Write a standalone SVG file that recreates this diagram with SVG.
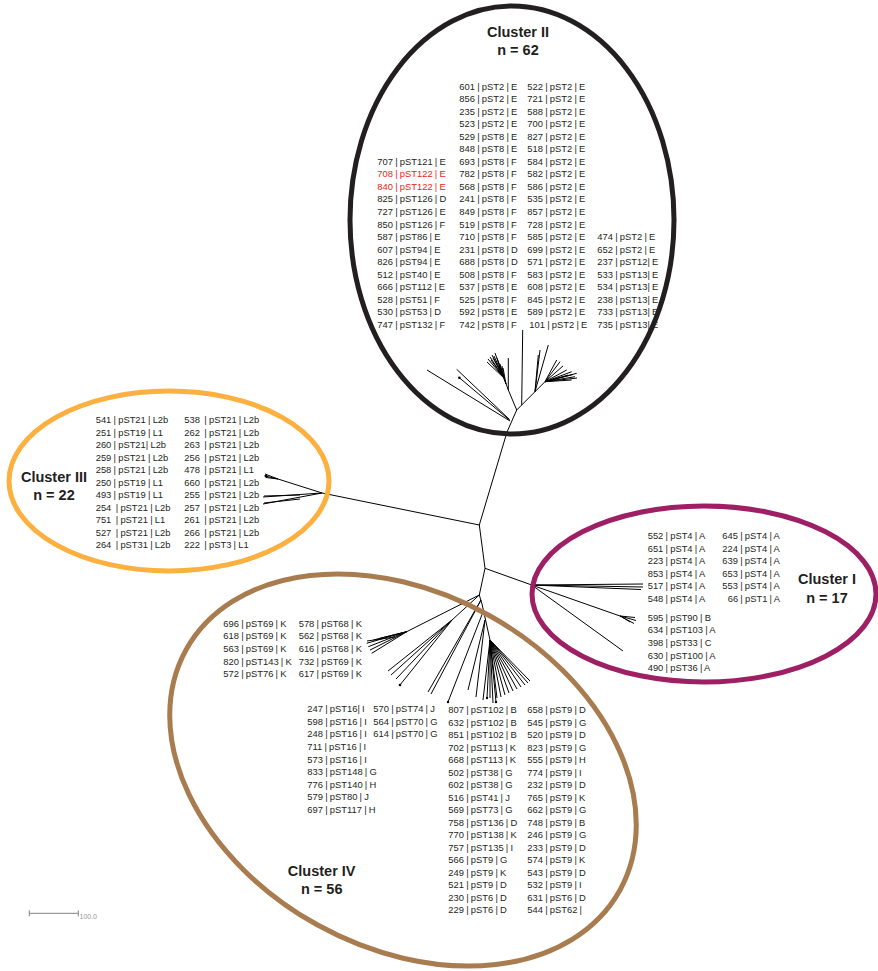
<svg xmlns="http://www.w3.org/2000/svg" width="878" height="971" viewBox="0 0 878 971">
<style>
.lbl{font-family:"Liberation Sans",Arial,sans-serif;font-size:9.4px;fill:#231f20;word-spacing:-0.4px}
.red{fill:#ed1c24}
.ttl{font-family:"Liberation Sans",Arial,sans-serif;font-size:14.5px;font-weight:bold;fill:#231f20;text-anchor:middle}
.ring{fill:none;stroke-width:5}
.tree path{fill:none;stroke:#000;stroke-width:1}
.tree circle{fill:#000}
.scale{stroke:#808285;stroke-width:1;fill:none}
.sc{font-family:"Liberation Sans",Arial,sans-serif;font-size:7px;fill:#939598}
</style>
<rect width="878" height="971" fill="#fff"/>

<g id="connectors" class="tree">
  <path d="M516.7,410 L507,432 L479.3,525 L485,568.3 L479.3,595 L482,604 L490,640"/>
  <path d="M479.3,525 L322,493"/>
  <path d="M322,493 L278,479 M278,479 L265,474 M278,479 L265,476 M278,479 L266,477.5"/>
  <path d="M322,493 L263,497 M300,495 L264,496 M322,493 L263,504 M300,499 L264,503"/>
  <path d="M485,568.3 L531.7,585"/>
  <path d="M531.7,585 L643,584 M531.7,585 L643,587 M531.7,585 L641,589.5"/>
  <path d="M531.7,585 L620,616 M620,616 L635,617.5 M620,616 L636,620.5 M620,616 L634,623.5 M622,617 L630,622"/>
  <path d="M531.7,585 L623,651"/>
  <path d="M510,421 L427,370 M509.5,419.5 L456.7,369.3 M509.5,420 L459.3,377.7"/>
  <path d="M516.7,410 L508.3,390 L508.3,358 M508.3,390 L504,378"/>
  <path d="M504,378 L487,362 M504,378 L488,359 M504,378 L490,357 M504,378 L492,355 M504,378 L494,356 M504,378 L495,353 M504,378 L497,358 M504,378 L498,361 M504,378 L500,364 M504,378 L502,366 M504,378 L491,360 M504,378 L493,358 M506,384 L499,366 M506,384 L503,368"/>
  <path d="M516.7,410 L535,391.7 M521.7,405 L522.7,330"/>
  <path d="M535,391.7 L538.3,355 M535,391.7 L540,350 M535,391.7 L548.3,345 M535,391.7 L545,381.7"/>
  <path d="M545,381.7 L560,361.7 M545,381.7 L556.7,360 M545,381.7 L566.7,370 M545,381.7 L571.7,371.7 M545,381.7 L576.7,373.3 M545,381.7 L575,376.7 M545,381.7 L571.7,380 M545,381.7 L568.3,375 M545,381.7 L563,366 M545,381.7 L573,374.5 M545,381.7 L577,378"/>
  <path d="M479.3,595 L406.7,631.7"/>
  <path d="M406.7,631.7 L366.7,643.3 M406.7,631.7 L368.3,646.7 M406.7,631.7 L370,650 M406.7,631.7 L371.7,653.3 M406.7,631.7 L373.3,640 M406.7,631.7 L380,638.3 M395,637 L367,641"/>
  <path d="M479.3,595 L452,620 M452,620 L388,671 M452,620 L391,675 M452,620 L396,679 M452,620 L400,685"/>
  <path d="M481,600 L428,692 M481,600 L431,694 M483,612 L448,702"/>
  <path d="M485,620 L468,690 M485,620 L476,697"/>
  <path d="M490,640 L483,700 M490,640 L487,698 M490,640 L490,698 M490,640 L493,703 M490,640 L497,698 M490,640 L501,697 M490,640 L505,695 M490,640 L509,693 M490,640 L513,691 M490,640 L517,689 M490,640 L521,687 M490,640 L525,685 M490,640 L528,683 M490,640 L530,681 M490,640 L496,702"/>
  <circle cx="459.3" cy="377.7" r="1.3"/>
  <circle cx="400" cy="685" r="1.3"/>
  <circle cx="448" cy="702" r="1.2"/>
  <circle cx="487" cy="698" r="1.2"/>
  <circle cx="496" cy="702" r="1.2"/>
  <circle cx="266" cy="476" r="1.5"/>
</g>

<g id="cluster-II">
  <ellipse class="ring" cx="512" cy="220" rx="162" ry="214" stroke="#231f20"/>
  <text class="ttl" x="518" y="36.7">Cluster II</text>
  <text class="ttl" x="518" y="55">n = 62</text>
  <text class="lbl">
    <tspan x="377.3" y="164.8">707 | pST121 | E</tspan>
    <tspan x="377.3" dy="12.55" class="red">708 | pST122 | E</tspan>
    <tspan x="377.3" dy="12.55" class="red">840 | pST122 | E</tspan>
    <tspan x="377.3" dy="12.55">825 | pST126 | D</tspan>
    <tspan x="377.3" dy="12.55">727 | pST126 | E</tspan>
    <tspan x="377.3" dy="12.55">850 | pST126 | F</tspan>
    <tspan x="377.3" dy="12.55">587 | pST86 | E</tspan>
    <tspan x="377.3" dy="12.55">607 | pST94 | E</tspan>
    <tspan x="377.3" dy="12.55">826 | pST94 | E</tspan>
    <tspan x="377.3" dy="12.55">512 | pST40 | E</tspan>
    <tspan x="377.3" dy="12.55">666 | pST112 | E</tspan>
    <tspan x="377.3" dy="12.55">528 | pST51 | F</tspan>
    <tspan x="377.3" dy="12.55">530 | pST53 | D</tspan>
    <tspan x="377.3" dy="12.55">747 | pST132 | F</tspan>
  </text>
  <text class="lbl">
    <tspan x="459.3" y="89.5">601 | pST2 | E</tspan>
    <tspan x="459.3" dy="12.55">856 | pST2 | E</tspan>
    <tspan x="459.3" dy="12.55">235 | pST2 | E</tspan>
    <tspan x="459.3" dy="12.55">523 | pST2 | E</tspan>
    <tspan x="459.3" dy="12.55">529 | pST8 | E</tspan>
    <tspan x="459.3" dy="12.55">848 | pST8 | E</tspan>
    <tspan x="459.3" dy="12.55">693 | pST8 | F</tspan>
    <tspan x="459.3" dy="12.55">782 | pST8 | F</tspan>
    <tspan x="459.3" dy="12.55">568 | pST8 | F</tspan>
    <tspan x="459.3" dy="12.55">241 | pST8 | F</tspan>
    <tspan x="459.3" dy="12.55">849 | pST8 | F</tspan>
    <tspan x="459.3" dy="12.55">519 | pST8 | F</tspan>
    <tspan x="459.3" dy="12.55">710 | pST8 | F</tspan>
    <tspan x="459.3" dy="12.55">231 | pST8 | D</tspan>
    <tspan x="459.3" dy="12.55">688 | pST8 | D</tspan>
    <tspan x="459.3" dy="12.55">508 | pST8 | F</tspan>
    <tspan x="459.3" dy="12.55">537 | pST8 | E</tspan>
    <tspan x="459.3" dy="12.55">525 | pST8 | F</tspan>
    <tspan x="459.3" dy="12.55">592 | pST8 | E</tspan>
    <tspan x="459.3" dy="12.55">742 | pST8 | F</tspan>
  </text>
  <text class="lbl">
    <tspan x="527.3" y="89.5">522 | pST2 | E</tspan>
    <tspan x="527.3" dy="12.55">721 | pST2 | E</tspan>
    <tspan x="527.3" dy="12.55">588 | pST2 | E</tspan>
    <tspan x="527.3" dy="12.55">700 | pST2 | E</tspan>
    <tspan x="527.3" dy="12.55">827 | pST2 | E</tspan>
    <tspan x="527.3" dy="12.55">518 | pST2 | E</tspan>
    <tspan x="527.3" dy="12.55">584 | pST2 | E</tspan>
    <tspan x="527.3" dy="12.55">582 | pST2 | E</tspan>
    <tspan x="527.3" dy="12.55">586 | pST2 | E</tspan>
    <tspan x="527.3" dy="12.55">535 | pST2 | E</tspan>
    <tspan x="527.3" dy="12.55">857 | pST2 | E</tspan>
    <tspan x="527.3" dy="12.55">728 | pST2 | E</tspan>
    <tspan x="527.3" dy="12.55">585 | pST2 | E</tspan>
    <tspan x="527.3" dy="12.55">699 | pST2 | E</tspan>
    <tspan x="527.3" dy="12.55">571 | pST2 | E</tspan>
    <tspan x="527.3" dy="12.55">583 | pST2 | E</tspan>
    <tspan x="527.3" dy="12.55">608 | pST2 | E</tspan>
    <tspan x="527.3" dy="12.55">845 | pST2 | E</tspan>
    <tspan x="527.3" dy="12.55">589 | pST2 | E</tspan>
    <tspan x="529.3" dy="12.55">101 | pST2 | E</tspan>
  </text>
  <text class="lbl">
    <tspan x="597.3" y="240.1">474 | pST2 | E</tspan>
    <tspan x="597.3" dy="12.55">652 | pST2 | E</tspan>
    <tspan x="597.3" dy="12.55">237 | pST12| E</tspan>
    <tspan x="597.3" dy="12.55">533 | pST13| E</tspan>
    <tspan x="597.3" dy="12.55">534 | pST13| E</tspan>
    <tspan x="597.3" dy="12.55">238 | pST13| E</tspan>
    <tspan x="597.3" dy="12.55">733 | pST13| E</tspan>
    <tspan x="597.3" dy="12.55">735 | pST13| E</tspan>
  </text>
</g>

<g id="cluster-III">
  <ellipse class="ring" cx="169" cy="481" rx="160" ry="90" stroke="#fbb040"/>
  <text class="ttl" x="54" y="481.7">Cluster III</text>
  <text class="ttl" x="54" y="500">n = 22</text>
  <text class="lbl" xml:space="preserve"><tspan x="95.7" y="423.3">541 | pST21 | L2b</tspan><tspan x="95.7" dy="12.5">251 | pST19 | L1</tspan><tspan x="95.7" dy="12.5">260 | pST21| L2b</tspan><tspan x="95.7" dy="12.5">259 | pST21 | L2b</tspan><tspan x="95.7" dy="12.5">258 | pST21 | L2b</tspan><tspan x="95.7" dy="12.5">250 | pST19 | L1</tspan><tspan x="95.7" dy="12.5">493 | pST19 | L1</tspan><tspan x="95.7" dy="12.5">254  | pST21 | L2b</tspan><tspan x="95.7" dy="12.5">751  | pST21 | L1</tspan><tspan x="95.7" dy="12.5">527  | pST21 | L2b</tspan><tspan x="95.7" dy="12.5">264  | pST31 | L2b</tspan></text>
  <text class="lbl" xml:space="preserve"><tspan x="184.3" y="423.3">538  | pST21 | L2b</tspan><tspan x="184.3" dy="12.5">262  | pST21 | L2b</tspan><tspan x="184.3" dy="12.5">263  | pST21 | L2b</tspan><tspan x="184.3" dy="12.5">256  | pST21 | L2b</tspan><tspan x="184.3" dy="12.5">478  | pST21 | L1</tspan><tspan x="184.3" dy="12.5">660  | pST21 | L2b</tspan><tspan x="184.3" dy="12.5">255  | pST21 | L2b</tspan><tspan x="184.3" dy="12.5">257  | pST21 | L2b</tspan><tspan x="184.3" dy="12.5">261  | pST21 | L2b</tspan><tspan x="184.3" dy="12.5">266  | pST21 | L2b</tspan><tspan x="184.3" dy="12.5">222  | pST3 | L1</tspan></text>
</g>

<g id="cluster-I">
  <ellipse class="ring" cx="704" cy="594" rx="172" ry="88" stroke="#9e1f63"/>
  <text class="ttl" x="827" y="584.3">Cluster I</text>
  <text class="ttl" x="827" y="602.7">n = 17</text>
  <text class="lbl">
    <tspan x="647.7" y="539">552 | pST4 | A</tspan>
    <tspan x="647.7" dy="12.5">651 | pST4 | A</tspan>
    <tspan x="647.7" dy="12.5">223 | pST4 | A</tspan>
    <tspan x="647.7" dy="12.5">853 | pST4 | A</tspan>
    <tspan x="647.7" dy="12.5">517 | pST4 | A</tspan>
    <tspan x="647.7" dy="12.5">548 | pST4 | A</tspan>
  </text>
  <text class="lbl">
    <tspan x="722.3" y="539">645 | pST4 | A</tspan>
    <tspan x="722.3" dy="12.5">224 | pST4 | A</tspan>
    <tspan x="722.3" dy="12.5">639 | pST4 | A</tspan>
    <tspan x="722.3" dy="12.5">653 | pST4 | A</tspan>
    <tspan x="722.3" dy="12.5">553 | pST4 | A</tspan>
    <tspan x="727.7" dy="12.5">66 | pST1 | A</tspan>
  </text>
  <text class="lbl">
    <tspan x="647.7" y="620.7">595 | pST90 | B</tspan>
    <tspan x="647.7" dy="12.6">634 | pST103 | A</tspan>
    <tspan x="647.7" dy="12.6">398 | pST33 | C</tspan>
    <tspan x="647.7" dy="12.6">630 | pST100 | A</tspan>
    <tspan x="647.7" dy="12.6">490 | pST36 | A</tspan>
  </text>
</g>

<g id="cluster-IV">
  <ellipse class="ring" cx="403" cy="770" rx="248" ry="177" transform="rotate(29 403 770)" stroke="#a97c50"/>
  <text class="ttl" x="321.7" y="876">Cluster IV</text>
  <text class="ttl" x="321.7" y="894">n = 56</text>
  <text class="lbl">
    <tspan x="223.3" y="626.7">696 | pST69 | K</tspan>
    <tspan x="223.3" dy="12.65">618 | pST69 | K</tspan>
    <tspan x="223.3" dy="12.65">563 | pST69 | K</tspan>
    <tspan x="223.3" dy="12.65">820 | pST143 | K</tspan>
    <tspan x="223.3" dy="12.65">572 | pST76 | K</tspan>
  </text>
  <text class="lbl">
    <tspan x="298.7" y="626.7">578 | pST68 | K</tspan>
    <tspan x="298.7" dy="12.65">562 | pST68 | K</tspan>
    <tspan x="298.7" dy="12.65">616 | pST68 | K</tspan>
    <tspan x="298.7" dy="12.65">732 | pST69 | K</tspan>
    <tspan x="298.7" dy="12.65">617 | pST69 | K</tspan>
  </text>
  <text class="lbl">
    <tspan x="307.3" y="712.3">247 | pST16| I</tspan>
    <tspan x="307.3" dy="12.55">598 | pST16 | I</tspan>
    <tspan x="307.3" dy="12.55">248 | pST16 | I</tspan>
    <tspan x="307.3" dy="12.55">711 | pST16 | I</tspan>
    <tspan x="307.3" dy="12.55">573 | pST16 | I</tspan>
    <tspan x="307.3" dy="12.55">833 | pST148 | G</tspan>
    <tspan x="307.3" dy="12.55">776 | pST140 | H</tspan>
    <tspan x="307.3" dy="12.55">579 | pST80 | J</tspan>
    <tspan x="307.3" dy="12.55">697 | pST117 | H</tspan>
  </text>
  <text class="lbl">
    <tspan x="373.3" y="712.3">570 | pST74 | J</tspan>
    <tspan x="373.3" dy="12.55">564 | pST70 | G</tspan>
    <tspan x="373.3" dy="12.55">614 | pST70 | G</tspan>
  </text>
  <text class="lbl">
    <tspan x="448.3" y="713.3">807 | pST102 | B</tspan>
    <tspan x="448.3" dy="12.5">632 | pST102 | B</tspan>
    <tspan x="448.3" dy="12.5">851 | pST102 | B</tspan>
    <tspan x="448.3" dy="12.5">702 | pST113 | K</tspan>
    <tspan x="448.3" dy="12.5">668 | pST113 | K</tspan>
    <tspan x="448.3" dy="12.5">502 | pST38 | G</tspan>
    <tspan x="448.3" dy="12.5">602 | pST38 | G</tspan>
    <tspan x="448.3" dy="12.5">516 | pST41 | J</tspan>
    <tspan x="448.3" dy="12.5">569 | pST73 | G</tspan>
    <tspan x="448.3" dy="12.5">758 | pST136 | D</tspan>
    <tspan x="448.3" dy="12.5">770 | pST138 | K</tspan>
    <tspan x="448.3" dy="12.5">757 | pST135 | I</tspan>
    <tspan x="448.3" dy="12.5">566 | pST9 | G</tspan>
    <tspan x="448.3" dy="12.5">249 | pST9 | K</tspan>
    <tspan x="448.3" dy="12.5">521 | pST9 | D</tspan>
    <tspan x="448.3" dy="12.5">230 | pST6 | D</tspan>
    <tspan x="448.3" dy="12.5">229 | pST6 | D</tspan>
  </text>
  <text class="lbl">
    <tspan x="527.3" y="713.3">658 | pST9 | D</tspan>
    <tspan x="527.3" dy="12.5">545 | pST9 | G</tspan>
    <tspan x="527.3" dy="12.5">520 | pST9 | D</tspan>
    <tspan x="527.3" dy="12.5">823 | pST9 | G</tspan>
    <tspan x="527.3" dy="12.5">555 | pST9 | H</tspan>
    <tspan x="527.3" dy="12.5">774 | pST9 | I</tspan>
    <tspan x="527.3" dy="12.5">232 | pST9 | D</tspan>
    <tspan x="527.3" dy="12.5">765 | pST9 | K</tspan>
    <tspan x="527.3" dy="12.5">662 | pST9 | G</tspan>
    <tspan x="527.3" dy="12.5">748 | pST9 | B</tspan>
    <tspan x="527.3" dy="12.5">246 | pST9 | G</tspan>
    <tspan x="527.3" dy="12.5">233 | pST9 | D</tspan>
    <tspan x="527.3" dy="12.5">574 | pST9 | K</tspan>
    <tspan x="527.3" dy="12.5">543 | pST9 | D</tspan>
    <tspan x="527.3" dy="12.5">532 | pST9 | I</tspan>
    <tspan x="527.3" dy="12.5">631 | pST6 | D</tspan>
    <tspan x="527.3" dy="12.5">544 | pST62 |</tspan>
  </text>
</g>

<g id="scale-bar">
  <path class="scale" d="M29.3,913.3 H78.3 M29.3,910.3 V916.3 M78.3,910.3 V916.3"/>
  <text class="sc" x="79.5" y="919">100.0</text>
</g>
</svg>
